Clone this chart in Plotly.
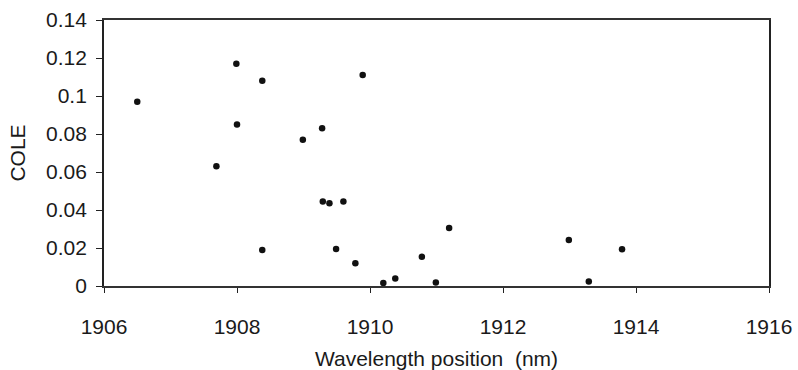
import plotly.graph_objects as go

wavelength_nm = [1906.50, 1907.69, 1907.99, 1908.00, 1908.38, 1908.99, 1909.28, 1909.89,
                 1909.29, 1909.39, 1909.60, 1908.38, 1909.49, 1909.78, 1910.20, 1910.38,
                 1910.78, 1910.99, 1911.19, 1912.99, 1913.29, 1913.79]
cole = [0.097, 0.063, 0.117, 0.085, 0.108, 0.077, 0.083, 0.111,
        0.0445, 0.0435, 0.0445, 0.019, 0.0195, 0.012, 0.0016, 0.004,
        0.0154, 0.0019, 0.0305, 0.0242, 0.0024, 0.0193]

x_ticks = [1906, 1908, 1910, 1912, 1914, 1916]
y_ticks = [0, 0.02, 0.04, 0.06, 0.08, 0.1, 0.12, 0.14]
y_tick_labels = ["0", "0.02", "0.04", "0.06", "0.08", "0.1", "0.12", "0.14"]

font_family = "Liberation Sans, Arial, sans-serif"

fig = go.Figure()
fig.add_trace(go.Scatter(
    x=wavelength_nm, y=cole, mode="markers",
    marker=dict(color="#111111", size=6.5, symbol="circle"),
    showlegend=False, cliponaxis=False,
))

fig.update_layout(
    width=798, height=370,
    margin=dict(l=104, r=29, t=19.5, b=84, autoexpand=False),
    paper_bgcolor="white", plot_bgcolor="white",
    font=dict(family=font_family, size=21, color="#1a1a1a"),
    xaxis=dict(
        range=[1906, 1916], tickvals=x_ticks, ticktext=[str(v) for v in x_ticks],
        showgrid=False, zeroline=False, showline=True, mirror=True,
        linecolor="#333333", linewidth=1.5,
        ticks="outside", ticklen=5, tickcolor="#222222", tickwidth=1,
        ticklabelstandoff=16, ticklabeloverflow="allow", automargin=False,
        title=dict(text="Wavelength position  (nm)", font=dict(size=21), standoff=14),
        tickfont=dict(size=21),
    ),
    yaxis=dict(
        range=[0, 0.14], tickvals=y_ticks, ticktext=y_tick_labels,
        showgrid=False, zeroline=False, showline=True, mirror=True,
        linecolor="#222222", linewidth=1.8,
        ticks="outside", ticklen=6, tickcolor="#222222", tickwidth=1,
        ticklabelstandoff=5, ticklabeloverflow="allow", automargin=False,
        title=dict(text="COLE", font=dict(size=21), standoff=15),
        tickfont=dict(size=21),
    ),
)

fig.write_html("out.html", config={"displayModeBar": False},
               post_script="document.body.style.margin='0';")
